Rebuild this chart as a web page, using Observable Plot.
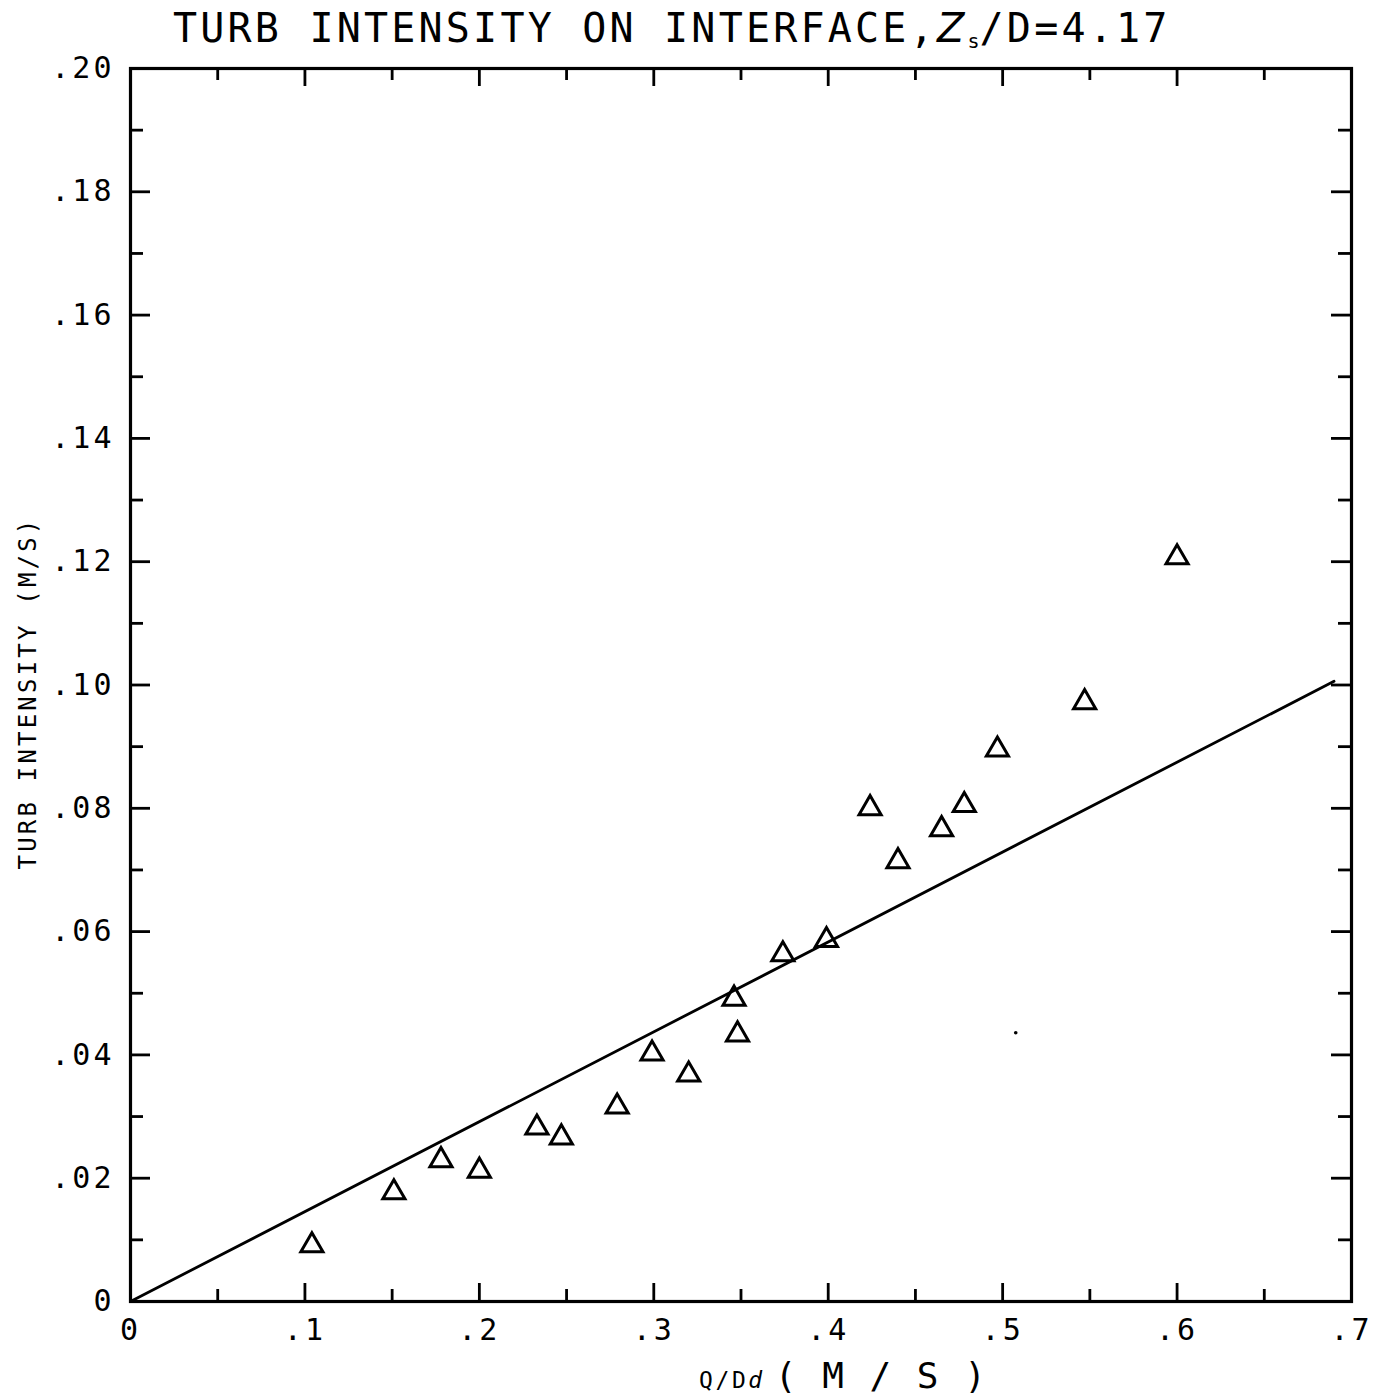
<!DOCTYPE html>
<html><head><meta charset="utf-8">
<script src="https://cdn.jsdelivr.net/npm/d3@7"></script>
<script src="https://cdn.jsdelivr.net/npm/@observablehq/plot@0.6"></script>
<style>
body{margin:0;background:#fff;}
#wrap{position:relative;width:1384px;height:1398px;font-family:"DejaVu Sans Mono",monospace;color:#000;background:#fff;overflow:hidden;}
#title{position:absolute;left:173px;top:5px;font-size:40px;letter-spacing:3.2px;white-space:nowrap;line-height:46px;z-index:2;}
#title i{font-family:"DejaVu Sans",sans-serif;font-style:italic;}
#title sub{font-size:20px;vertical-align:-6px;letter-spacing:0;}
#chart{position:absolute;left:0;top:40px;z-index:1;}
#chart text{letter-spacing:3px;}
#ylab{position:absolute;left:28px;top:693px;transform:translate(-50%,-50%) rotate(-90deg);font-size:24px;letter-spacing:3.2px;white-space:nowrap;z-index:2;}
#xlab{position:absolute;left:699px;top:1356px;white-space:nowrap;line-height:40px;z-index:2;}
#xlab .s{font-size:23px;letter-spacing:2.6px;}
#xlab .b{font-size:36px;letter-spacing:2px;margin-left:10px;}
</style></head>
<body>
<div id="wrap">
  <div id="chart"></div>
  <div id="title">TURB INTENSITY ON INTERFACE,<i>Z</i><sub>s</sub>/D=4.17</div>
  <div id="ylab">TURB INTENSITY (M/S)</div>
  <div id="xlab"><span class="s">Q/D<i>d</i></span><span class="b">( M / S )</span></div>
</div>
<script>
// Data
const qdd  = [0.104, 0.151, 0.178, 0.200, 0.233, 0.247, 0.279, 0.299, 0.320, 0.346, 0.348, 0.374, 0.399, 0.424, 0.440, 0.465, 0.478, 0.497, 0.547, 0.600];
const turb = [0.0091, 0.0177, 0.0229, 0.0212, 0.0282, 0.0266, 0.0316, 0.0402, 0.0368, 0.0491, 0.0433, 0.0563, 0.0586, 0.0800, 0.0714, 0.0766, 0.0805, 0.0895, 0.0972, 0.1207];
const fitX = [0, 0.69];
const fitY = [0, 0.1006];
const strayX = [0.5075];
const strayY = [0.0436];
const xMajor = [0, 0.1, 0.2, 0.3, 0.4, 0.5, 0.6, 0.7];
const xMinor = [0.05, 0.15, 0.25, 0.35, 0.45, 0.55, 0.65];
const yMajor = [0, 0.02, 0.04, 0.06, 0.08, 0.10, 0.12, 0.14, 0.16, 0.18, 0.20];
const yMinor = [0.01, 0.03, 0.05, 0.07, 0.09, 0.11, 0.13, 0.15, 0.17, 0.19];

const points = qdd.map((x, i) => ({x, y: turb[i]}));
const fit = fitX.map((x, i) => ({x, y: fitY[i]}));
const stray = strayX.map((x, i) => ({x, y: strayY[i]}));

const W = 1384, H = 1358, mT = 28, mL = 130, mR = 33, mB = 97;
const FW = W - mL - mR, FH = H - mT - mB;
const fmt = (d, n) => d === 0 ? "0" : d3.format("." + n + "f")(d).replace(/^0/, "");
const tk = {stroke: "black", strokeWidth: 2.8};

const chart = Plot.plot({
  width: W, height: H,
  marginTop: mT, marginLeft: mL, marginRight: mR, marginBottom: mB,
  x: {domain: [0, 0.7]},
  y: {domain: [0, 0.2]},
  style: {background: "white", fontFamily: "'DejaVu Sans Mono', monospace", color: "black"},
  marks: [
    Plot.tickY(yMajor, {...tk, insetRight: FW - 20}),
    Plot.tickY(yMajor, {...tk, insetLeft: FW - 20}),
    Plot.tickY(yMinor, {...tk, insetRight: FW - 13}),
    Plot.tickY(yMinor, {...tk, insetLeft: FW - 13}),
    Plot.tickX(xMajor, {...tk, insetTop: FH - 18}),
    Plot.tickX(xMajor, {...tk, insetBottom: FH - 18}),
    Plot.tickX(xMinor, {...tk, insetTop: FH - 12}),
    Plot.tickX(xMinor, {...tk, insetBottom: FH - 12}),
    Plot.frame({stroke: "black", strokeWidth: 3.2}),
    Plot.axisY(yMajor, {tickSize: 0, tickPadding: 16, fontSize: 30, label: null, tickFormat: d => fmt(d, 2)}),
    Plot.axisX(xMajor, {tickSize: 0, tickPadding: 17, fontSize: 30, label: null, tickFormat: d => fmt(d, 1)}),
    Plot.line(fit, {x: "x", y: "y", stroke: "black", strokeWidth: 2.8}),
    Plot.dot(points, {x: "x", y: "y", symbol: "triangle", r: 8.2, stroke: "black", strokeWidth: 3, fill: "none"}),
    Plot.dot(stray, {x: "x", y: "y", r: 1.8, fill: "black", stroke: "none"})
  ]
});
document.getElementById("chart").appendChild(chart);
</script>
</body></html>
